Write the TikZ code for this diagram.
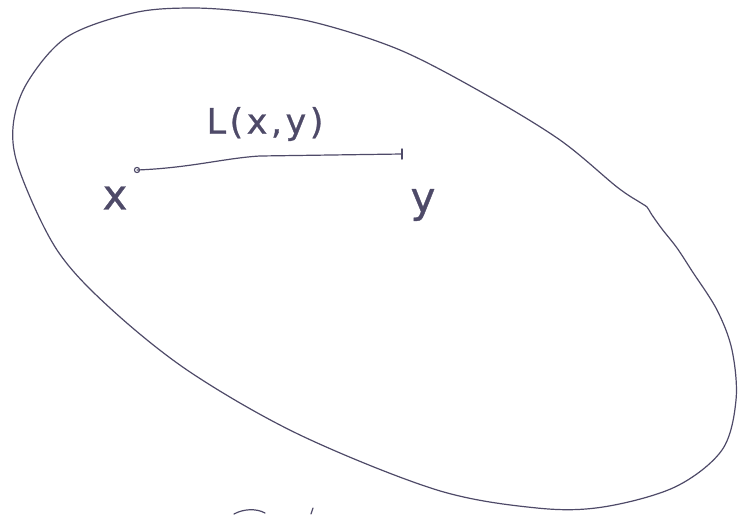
\documentclass[tikz,border=0pt]{standalone}
\usepackage{fontspec}
\setmainfont{DejaVu Sans ExtraLight}[FakeBold=0.8]
\newfontfamily\handfont[LetterSpace=10,FakeBold=0.8]{DejaVu Sans ExtraLight}
\definecolor{ink}{HTML}{4E4A68}
\begin{document}
\begin{tikzpicture}[x=1pt,y=-1pt,
  stroke/.style={draw=ink,line width=1.2pt,line cap=round,line join=round},
  lbl/.style={text=ink,inner sep=0pt}]
\useasboundingbox (0,0) rectangle (738,514);
% closed region
\draw[stroke] plot[smooth cycle,tension=0.55] coordinates {
 (250,12) (317,23) (400,50) (483,93) (560,140) (617,187) (641,203) (647,207)
 (652,215) (662,229) (677,248) (692,271) (717,310) (732,350) (736,400)
 (722,450) (675,487) (603,507) (537,508) (437,490) (300,435)
 (190,372) (110,308) (57,250) (20,172) (13,127)
 (27,83) (67,37) (133,13) (190,8)};
% points and connector
\coordinate (x) at (137,170);
\coordinate (y) at (402,154);
\draw[stroke] (x) .. controls (190,168) and (225,158) .. (260,156) -- (y);
\draw[ink,line width=1.1pt] (x) circle (2.6);
\draw[stroke,line width=1.5pt] ([yshift=-5]y) -- ([yshift=5]y);
% labels
\node[lbl,font=\bfseries\fontsize{42}{42}\selectfont] (lx) at (115,198) {x};
\node[lbl,font=\bfseries\fontsize{42}{42}\selectfont] (ly) at (423,205) {y};
\node[lbl,font=\handfont\bfseries\fontsize{35}{35}\selectfont] (lL) at (265,124) {L(x,y)};
% cut-off marks at bottom edge
\draw[stroke] (234,514) .. controls (243,509) and (256,508) .. (265,513);
\draw[stroke] (311,514) -- (313,508);
\end{tikzpicture}
\end{document}
